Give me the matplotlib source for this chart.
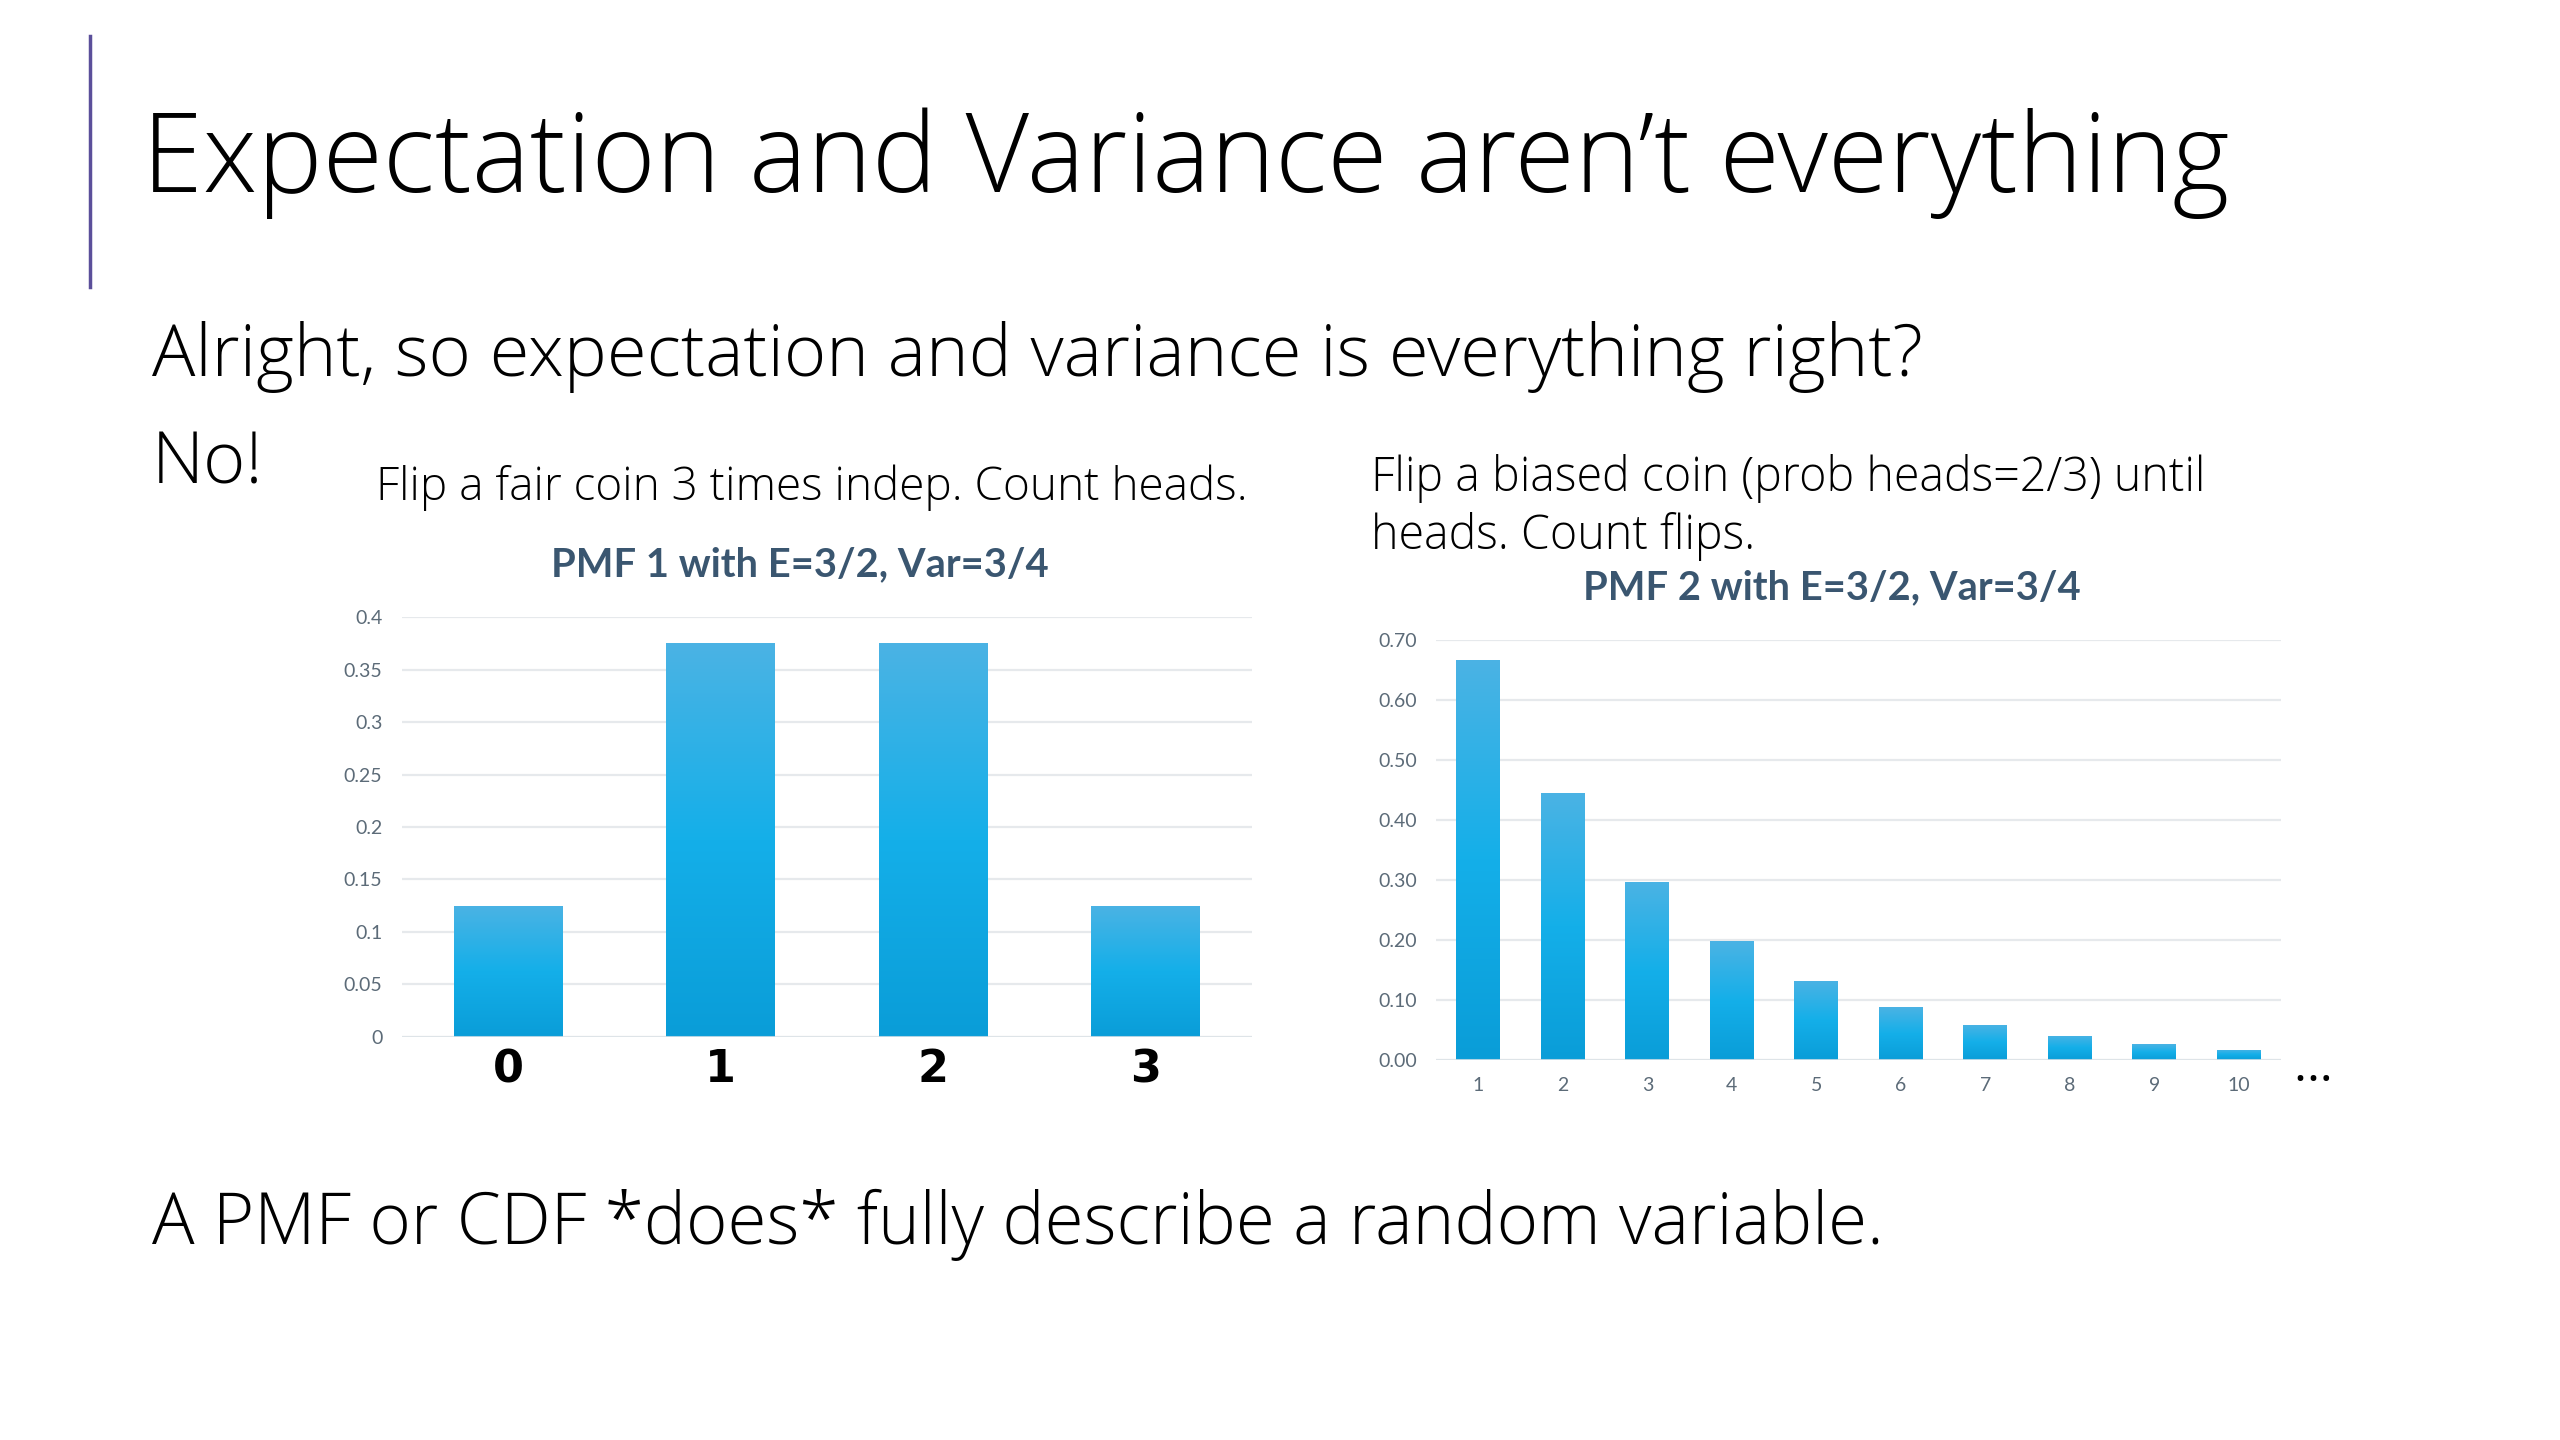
import numpy as np
import matplotlib
matplotlib.use("Agg")
import matplotlib.pyplot as plt
from matplotlib.colors import LinearSegmentedColormap

# data
fair_k = ["0", "1", "2", "3"]
fair_p = [0.125, 0.375, 0.375, 0.125]
fair_yticks = [0, 0.05, 0.1, 0.15, 0.2, 0.25, 0.3, 0.35, 0.4]
fair_yticklabels = ["0", "0.05", "0.1", "0.15", "0.2", "0.25", "0.3", "0.35", "0.4"]

geo_k = ["1", "2", "3", "4", "5", "6", "7", "8", "9", "10"]
geo_p = [0.667, 0.445, 0.297, 0.198, 0.132, 0.088, 0.059, 0.040, 0.026, 0.017]
geo_yticks = [0.0, 0.1, 0.2, 0.3, 0.4, 0.5, 0.6, 0.7]
geo_yticklabels = ["0.00", "0.10", "0.20", "0.30", "0.40", "0.50", "0.60", "0.70"]

TEXT_FONT = ["Open Sans", "DejaVu Sans"]
CHART_FONT = ["Lato", "DejaVu Sans"]
TICK_COLOR = "#5c6b78"
TITLE_COLOR = "#3a5670"
GRID_COLOR = "#e6e9ec"

bar_cmap = LinearSegmentedColormap.from_list(
    "bar", ["#0a9dd8", "#14afe9", "#4bb3e4"]
)


def gradient_bars(ax, x, heights, width):
    bars = ax.bar(x, heights, width=width, color="none", zorder=2)
    grad = np.linspace(0, 1, 256).reshape(-1, 1)
    for b in bars:
        x0, y0 = b.get_x(), b.get_y()
        im = ax.imshow(
            grad,
            extent=[x0, x0 + b.get_width(), y0, y0 + b.get_height()],
            origin="lower",
            aspect="auto",
            cmap=bar_cmap,
            zorder=2,
        )
        im.set_clip_path(b)
    return bars


def style_axes(ax, yticks, yticklabels, ylim):
    ax.set_ylim(ylim)
    ax.set_yticks(yticks)
    ax.set_yticklabels(yticklabels, fontsize=14, color=TICK_COLOR, family=CHART_FONT)
    ax.grid(axis="y", color=GRID_COLOR, lw=1.6, zorder=0)
    ax.set_axisbelow(True)
    for s in ax.spines.values():
        s.set_visible(False)
    ax.tick_params(axis="both", length=0)
    ax.tick_params(axis="y", pad=14)
    ax.axhline(0, color="#dde3e8", lw=2.2, alpha=0.8, zorder=3)


fig = plt.figure(figsize=(25.6, 14.4), dpi=100)
fig.patch.set_facecolor("white")

# accent bar at left of the title
fig.add_artist(
    plt.Line2D([0.0352, 0.0352], [0.801, 0.975], color="#5b4f9a", lw=2.5,
               transform=fig.transFigure)
)

fig.text(0.0555, 0.867, "Expectation and Variance aren\u2019t everything",
         fontsize=79, family=TEXT_FONT, fontweight="light", va="baseline")
fig.text(0.0593, 0.739, "Alright, so expectation and variance is everything right?",
         fontsize=52, family=TEXT_FONT, fontweight="light", va="baseline")
fig.text(0.0593, 0.6644, "No!", fontsize=52, family=TEXT_FONT,
         fontweight="light", va="baseline")
fig.text(0.1467, 0.653, "Flip a fair coin 3 times indep. Count heads.",
         fontsize=33, family=TEXT_FONT, fontweight="light", va="baseline")
fig.text(0.5357, 0.659, "Flip a biased coin (prob heads=2/3) until",
         fontsize=33.5, family=TEXT_FONT, fontweight="light", va="baseline")
fig.text(0.5357, 0.619, "heads. Count flips.",
         fontsize=33.5, family=TEXT_FONT, fontweight="light", va="baseline")
fig.text(0.0593, 0.136, "A PMF or CDF *does* fully describe a random variable.",
         fontsize=51, family=TEXT_FONT, fontweight="light", va="baseline")

# PMF 1: binomial
ax1 = fig.add_axes([0.157, 0.2799, 0.332, 0.2916])
x1 = np.arange(len(fair_k))
gradient_bars(ax1, x1, fair_p, 0.51)
ax1.set_xlim(-0.5, len(fair_k) - 0.5)
style_axes(ax1, fair_yticks, fair_yticklabels, (0, 0.4))
ax1.set_xticks(x1)
ax1.set_xticklabels(fair_k, fontsize=32, fontweight="heavy", color="black",
                    family=["DejaVu Sans"])
ax1.tick_params(axis="x", pad=8)
fig.text(0.3125, 0.600, "PMF 1 with E=3/2, Var=3/4", ha="center",
         va="baseline", fontsize=28.7, fontweight="bold", color=TITLE_COLOR,
         family=CHART_FONT)

# PMF 2: geometric-like tail
ax2 = fig.add_axes([0.561, 0.2639, 0.330, 0.2917])
x2 = np.arange(1, len(geo_k) + 1)
gradient_bars(ax2, x2, geo_p, 0.52)
ax2.set_xlim(0.5, len(geo_k) + 0.5)
style_axes(ax2, geo_yticks, geo_yticklabels, (0, 0.7))
ax2.set_xticks(x2)
ax2.set_xticklabels(geo_k, fontsize=14, color=TICK_COLOR, family=CHART_FONT)
ax2.tick_params(axis="x", pad=12)
fig.text(0.7156, 0.584, "PMF 2 with E=3/2, Var=3/4", ha="center",
         va="baseline", fontsize=28.7, fontweight="bold", color=TITLE_COLOR,
         family=CHART_FONT)
fig.text(0.896, 0.258, "\u2026", fontsize=36, color="black", family=TEXT_FONT,
         va="center")

fig.savefig("out.png", dpi=100, facecolor="white")
plt.close(fig)
